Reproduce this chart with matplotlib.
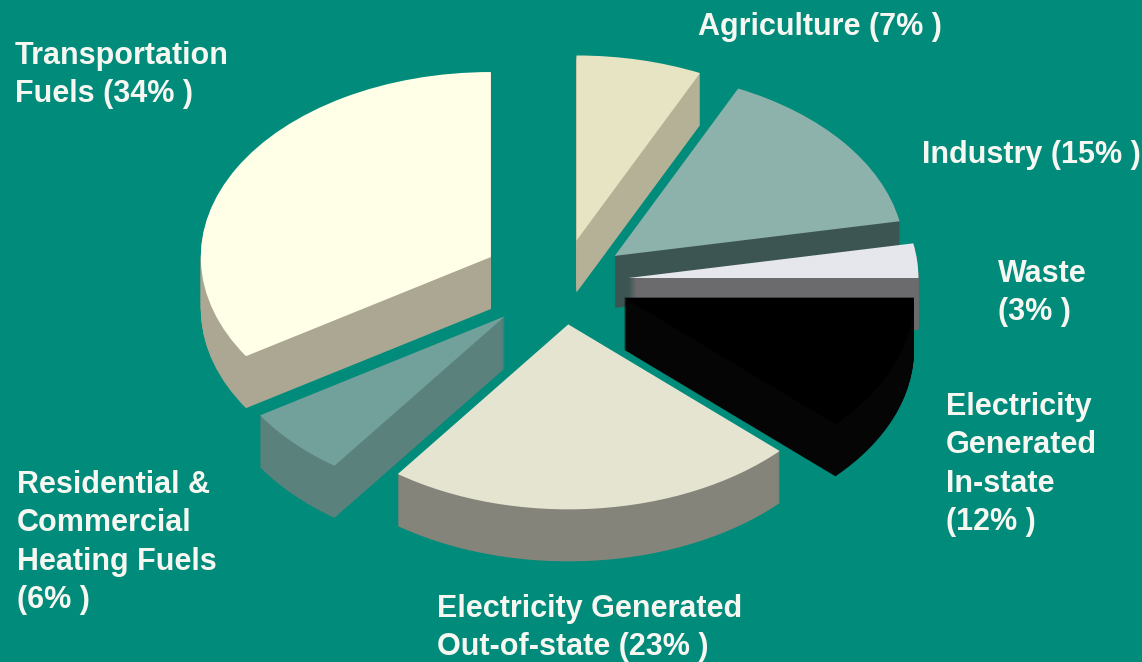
import matplotlib
matplotlib.use("Agg")
from matplotlib import pyplot as plt
from matplotlib.transforms import Affine2D

# greenhouse gas share by sector
sectors = ["Agriculture", "Industry", "Waste", "Electricity In-state",
           "Electricity Out-of-state", "Residential & Commercial", "Transportation"]
shares = [7, 15, 3, 12, 23, 6, 34]
explode = [0.23, 0.23, 0.23, 0.23, 0.23, 0.27, 0.28]

labels = ["Agriculture (7% )", "Industry (15% )", "Waste\n(3% )",
          "Electricity\nGenerated\nIn-state\n(12% )",
          "Electricity Generated\nOut-of-state (23% )",
          "Residential &\nCommercial\nHeating Fuels\n(6% )",
          "Transportation\nFuels (34% )"]
# left x and baseline of the last line, in pixels
label_pos = [(698, 35), (922, 163), (998, 320), (946, 530), (437, 655), (17, 608), (15, 102)]

top_colors = ["#E6E4C2", "#8DB2AB", "#E6E7EC", "#000000", "#E5E4D1", "#72A09B", "#FFFFE8"]
side_colors = ["#B5B197", "#3C5552", "#6B6B6E", "#050505", "#85847A", "#5A817C", "#ABA792"]

bg = "#008B7B"
CX, CY = 562, 282     # pie centre in pixels
RX, RY = 290, 185     # squashed radii
DEPTH = 52

fig = plt.figure(figsize=(11.42, 6.62), dpi=100, facecolor=bg)
ax = fig.add_axes([0, 0, 1, 1])
ax.set_facecolor(bg)

# side walls: stack of shifted pies, then the top faces
for k in range(DEPTH, -1, -1):
    cols = top_colors if k == 0 else side_colors
    wedges, _ = ax.pie(shares, explode=explode, colors=cols, startangle=90,
                       counterclock=False, radius=1,
                       wedgeprops=dict(linewidth=0))
    for w in wedges:
        w.set_transform(Affine2D().scale(RX, -RY).translate(CX, CY + k) + ax.transData)
        w.set_zorder(DEPTH - k + 1)

for txt, (x, y) in zip(labels, label_pos):
    ax.text(x, y, txt, color="#F7F7F2", fontsize=22, fontweight="bold",
            family="Liberation Sans", ha="left", va="baseline",
            linespacing=1.36, zorder=100)

ax.set_aspect("auto")
ax.set_xlim(0, 1142)
ax.set_ylim(662, 0)
ax.axis("off")

plt.savefig("out.png", dpi=100, facecolor=bg)
